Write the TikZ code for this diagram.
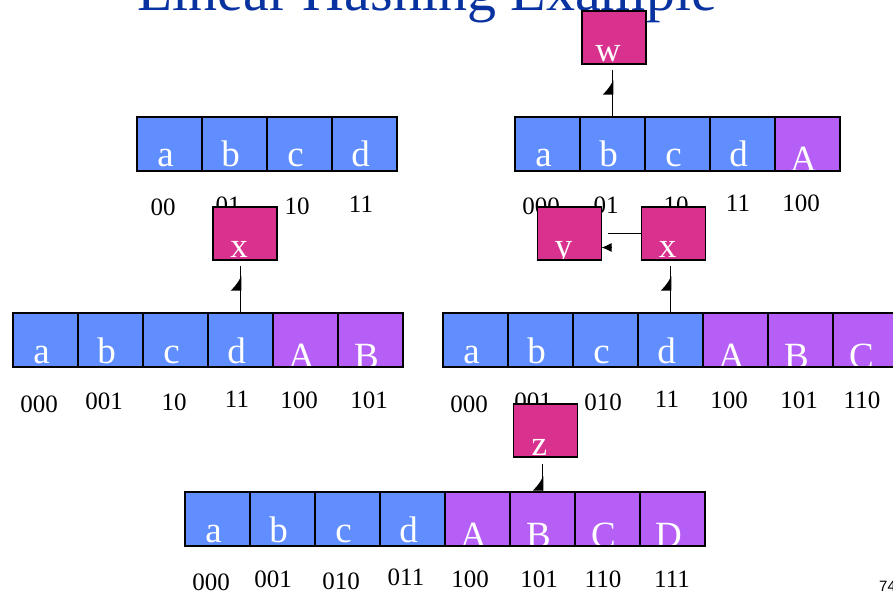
\documentclass[tikz,border=0pt]{standalone}
\usepackage{fontspec}
\setmainfont{Liberation Serif}
\newfontfamily\pagenofont{Liberation Sans}
\usepackage{tikz}
\usetikzlibrary{positioning, arrows.meta}
\usepackage{xcolor}

\definecolor{oldblue}{RGB}{96,142,255}
\definecolor{newpurple}{RGB}{182,95,246}
\definecolor{ovflpink}{RGB}{216,50,142}
\definecolor{titleblue}{RGB}{8,50,160}

\tikzset{
    slot/.style={draw, line width=1.5pt, minimum width=65pt, minimum height=54pt, inner sep=0pt, outer sep=0pt},
    oldslot/.style={slot, fill=oldblue, path picture={\node[white, font=\fontsize{37}{37}\selectfont, anchor=base, inner sep=0pt] at ([xshift=-4pt, yshift=4pt]path picture bounding box.south) {#1};}},
    newslot/.style={slot, fill=newpurple, path picture={\node[white, font=\fontsize{37}{37}\selectfont, anchor=base, inner sep=0pt] at ([xshift=-4pt, yshift=-1pt]path picture bounding box.south) {#1};}},
    ovbox/.style={draw, line width=1.5pt, fill=ovflpink, minimum width=64pt, minimum height=53pt, inner sep=0pt, outer sep=0pt, path picture={\node[white, font=\fontsize{35}{35}\selectfont, anchor=base, inner sep=0pt] at ([xshift=-6pt, yshift=2pt]path picture bounding box.south) {#1};}},
    addr/.style={font=\fontsize{25}{25}\selectfont, inner sep=0pt},
    stem/.style={line width=1.6pt},
    barb/.style={-{Latex[harpoon, length=13pt, width=20pt]}, line width=1.6pt},
    tiphead/.style={-{Latex[length=10pt, width=9pt]}, line width=1pt}
}

\begin{document}
\begin{tikzpicture}[x=1pt, y=-1pt]

    \useasboundingbox (0,0) rectangle (893,593);

    % 1. Title (cut off by the top of the slide)
    \node[font=\fontsize{58}{58}\selectfont, text=titleblue, anchor=base] (title) at (427,11) {Linear Hashing Example};

    % 2. Table with 4 buckets
    \node[oldslot=a] (ta0) at (169.5,144) {};
    \node[oldslot=b, right=0pt of ta0] (ta1) {};
    \node[oldslot=c, right=0pt of ta1] (ta2) {};
    \node[oldslot=d, right=0pt of ta2] (ta3) {};
    \node[addr] (la0) at (163,207.5) {00};
    \node[addr] (la1) at (228,205) {01};
    \node[addr] (la2) at (297,206.5) {10};
    \node[addr] (la3) at (361,204) {11};

    % 3. Table after the first split (bucket A added)
    \node[oldslot=a] (tb0) at (547.5,144) {};
    \node[oldslot=b, right=0pt of tb0] (tb1) {};
    \node[oldslot=c, right=0pt of tb1] (tb2) {};
    \node[oldslot=d, right=0pt of tb2] (tb3) {};
    \node[newslot=A, right=0pt of tb3] (tb4) {};
    \node[addr] (lb0) at (541,206) {000};
    \node[addr] (lb1) at (606,205) {01};
    \node[addr] (lb2) at (676,205) {10};
    \node[addr] (lb3) at (738,203) {11};
    \node[addr] (lb4) at (801,203) {100};

    % 4. Table with A and B
    \node[oldslot=a] (tc0) at (45.5,340) {};
    \node[oldslot=b, right=0pt of tc0] (tc1) {};
    \node[oldslot=c, right=0pt of tc1] (tc2) {};
    \node[oldslot=d, right=0pt of tc2] (tc3) {};
    \node[newslot=A, right=0pt of tc3] (tc4) {};
    \node[newslot=B, right=0pt of tc4] (tc5) {};
    \node[addr] (lc0) at (39,404) {000};
    \node[addr] (lc1) at (104,401) {001};
    \node[addr] (lc2) at (174,402) {10};
    \node[addr] (lc3) at (237,399) {11};
    \node[addr] (lc4) at (299,400) {100};
    \node[addr] (lc5) at (369,400) {101};

    % 5. Table with A, B and C (runs off the right edge)
    \node[oldslot=a] (td0) at (475.5,340) {};
    \node[oldslot=b, right=0pt of td0] (td1) {};
    \node[oldslot=c, right=0pt of td1] (td2) {};
    \node[oldslot=d, right=0pt of td2] (td3) {};
    \node[newslot=A, right=0pt of td3] (td4) {};
    \node[newslot=B, right=0pt of td4] (td5) {};
    \node[newslot=C, right=0pt of td5] (td6) {};
    \node[addr] (ld0) at (469,404) {000};
    \node[addr] (ld1) at (533,401) {001};
    \node[addr] (ld2) at (603,402) {010};
    \node[addr] (ld3) at (667,399) {11};
    \node[addr] (ld4) at (729,400) {100};
    \node[addr] (ld5) at (799,400) {101};
    \node[addr] (ld6) at (862,400) {110};

    % 6. Table with 8 buckets
    \node[oldslot=a] (te0) at (217.5,519) {};
    \node[oldslot=b, right=0pt of te0] (te1) {};
    \node[oldslot=c, right=0pt of te1] (te2) {};
    \node[oldslot=d, right=0pt of te2] (te3) {};
    \node[newslot=A, right=0pt of te3] (te4) {};
    \node[newslot=B, right=0pt of te4] (te5) {};
    \node[newslot=C, right=0pt of te5] (te6) {};
    \node[newslot=D, right=0pt of te6] (te7) {};
    \node[addr] (le0) at (211,582) {000};
    \node[addr] (le1) at (273,579) {001};
    \node[addr] (le2) at (341,581) {010};
    \node[addr] (le3) at (406,577) {011};
    \node[addr] (le4) at (470,579) {100};
    \node[addr] (le5) at (539,579) {101};
    \node[addr] (le6) at (603,579) {110};
    \node[addr] (le7) at (672,579) {111};

    % 7. Overflow pages (drawn over the address labels)
    \node[ovbox=w] (ovw) at (614,37.5) {};
    \node[ovbox=x] (ovx1) at (245,233.5) {};
    \node[ovbox=y] (ovy) at (569.5,233.5) {};
    \node[ovbox=x] (ovx2) at (673.5,233.5) {};
    \node[ovbox=z] (ovz) at (545.5,430.5) {};

    % 8. Overflow pointers (the stem runs on past the half head)
    \draw[stem, shorten >=6pt] (tb1.north) -- (tb1.north |- ovw.south);
    \draw[barb, shorten >=16pt] (tb1.north) -- (tb1.north |- ovw.south);
    \draw[stem, shorten >=6pt] (tc3.north) -- (tc3.north |- ovx1.south);
    \draw[barb, shorten >=16pt] (tc3.north) -- (tc3.north |- ovx1.south);
    \draw[stem, shorten >=6pt] (td3.north) -- (td3.north |- ovx2.south);
    \draw[barb, shorten >=16pt] (td3.north) -- (td3.north |- ovx2.south);
    \draw[stem, shorten >=7pt] (te5.north) -- (te5.north |- ovz.south);
    \draw[barb, shorten >=19pt] (te5.north) -- (te5.north |- ovz.south);

    % y <- x, head sits below the line
    \draw[stem, shorten >=6pt] (ovx2.west) -- (ovx2.west -| ovy.east);
    \draw[tiphead] ([xshift=10pt, yshift=-14pt]ovy.east) -- ([yshift=-14pt]ovy.east);

    % 9. Slide number
    \node[font=\pagenofont\fontsize{15}{15}\selectfont, anchor=base west, inner sep=0pt] (pgno) at (879,591) {74};

\end{tikzpicture}
\end{document}
